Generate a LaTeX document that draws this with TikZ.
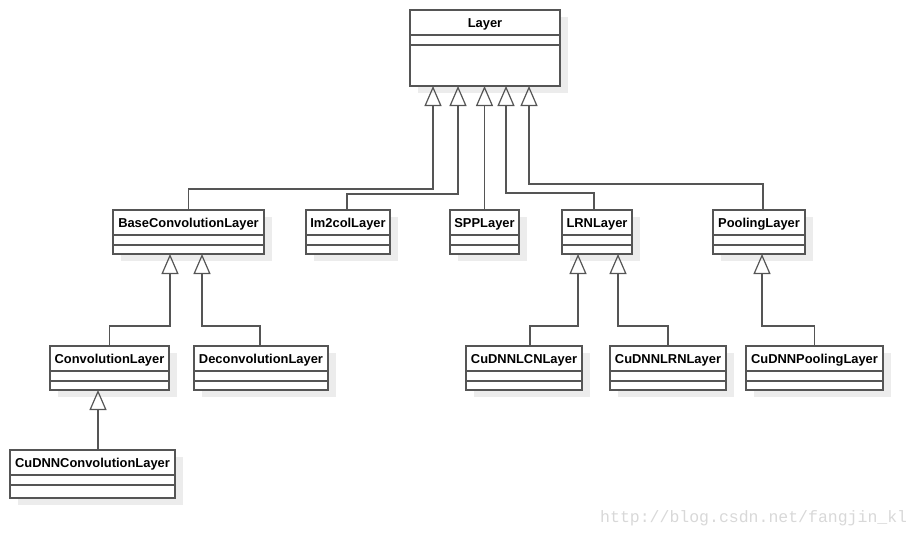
\documentclass[tikz,border=0pt]{standalone}
\usepackage{fontspec}
\setmainfont{Liberation Sans}
\newfontfamily\markfont{Liberation Mono}
\usetikzlibrary{calc, positioning}
\usetikzlibrary{arrows.meta}
\usetikzlibrary{shadows}

\definecolor{umlgray}{RGB}{85,85,85}
\definecolor{shadowgray}{RGB}{236,236,236}
\definecolor{markgray}{RGB}{216,216,216}

\begin{document}
\begin{tikzpicture}[x=1pt,y=-1pt,
    umlclass/.style={draw=umlgray, line width=1.2pt, fill=white,
        anchor=north west, outer sep=0pt, inner xsep=0pt, inner ysep=0pt,
        text height=17.5pt, text depth=#1,
        font=\fontsize{12.9}{14}\selectfont\bfseries,
        drop shadow={shadow xshift=8pt, shadow yshift=-7pt,
            fill=shadowgray, opacity=1}},
    umlclass/.default=26.5pt,
    compartment/.style={draw=umlgray, line width=1.2pt},
    extends/.style={draw=umlgray, line width=1.2pt,
        -{Triangle[open, length=20pt, width=17pt]}}]
\useasboundingbox (0,0) rectangle (922,538);

% Classes
\node[umlclass=58.5pt, minimum width=150pt] (layer) at (410,10) {Layer};

\node[umlclass, minimum width=151pt] (baseconv) at (113,210) {BaseConvolutionLayer};
\node[umlclass, minimum width=84pt] (im2col) at (306,210) {Im2colLayer};
\node[umlclass, minimum width=69pt] (spp) at (450,210) {SPPLayer};
\node[umlclass, minimum width=70pt] (lrn) at (562,210) {LRNLayer};
\node[umlclass, minimum width=92pt] (pool) at (713,210) {PoolingLayer};

\node[umlclass, minimum width=119pt] (conv) at (50,346) {ConvolutionLayer};
\node[umlclass, minimum width=134pt] (deconv) at (194,346) {DeconvolutionLayer};
\node[umlclass, minimum width=116pt] (cudnnlcn) at (466,346) {CuDNNLCNLayer};
\node[umlclass, minimum width=116pt] (cudnnlrn) at (610,346) {CuDNNLRNLayer};
\node[umlclass, minimum width=137pt] (cudnnpool) at (746,346) {CuDNNPoolingLayer};

\node[umlclass=30.5pt, minimum width=165pt] (cudnnconv) at (10,450) {CuDNNConvolutionLayer};

% Compartment lines
\foreach \cls in {layer, baseconv, im2col, spp, lrn, pool,
                  conv, deconv, cudnnlcn, cudnnlrn, cudnnpool, cudnnconv} {
    \draw[compartment] ([yshift=-25pt]\cls.north west) -- ([yshift=-25pt]\cls.north east);
    \draw[compartment] ([yshift=-35pt]\cls.north west) -- ([yshift=-35pt]\cls.north east);
}

% Inheritance from Layer
\draw[extends] (baseconv.north) -- ++(0,-21) -| ([xshift=-52pt]layer.south);
\draw[extends] ([xshift=-1pt]im2col.north) -- ++(0,-16) -| ([xshift=-27pt]layer.south);
\draw[extends] (spp.north) -- (spp.north |- layer.south);
\draw[extends] ([xshift=-3pt]lrn.north) -- ++(0,-17) -| ([xshift=21pt]layer.south);
\draw[extends] ([xshift=4pt]pool.north) -- ++(0,-26) -| ([xshift=44pt]layer.south);

% Second level
\draw[extends] (conv.north) -- ++(0,-20) -| ([xshift=-18.5pt]baseconv.south);
\draw[extends] ([xshift=-1pt]deconv.north) -- ++(0,-20) -| ([xshift=13.5pt]baseconv.south);
\draw[extends] ([xshift=6pt]cudnnlcn.north) -- ++(0,-20) -| ([xshift=-19pt]lrn.south);
\draw[extends] (cudnnlrn.north) -- ++(0,-20) -| ([xshift=21pt]lrn.south);
\draw[extends] (cudnnpool.north) -- ++(0,-20) -| ([xshift=3pt]pool.south);
\draw[extends] ([xshift=5.5pt]cudnnconv.north) -- ([xshift=-11.5pt]conv.south);

% Watermark
\node[font=\markfont\fontsize{16.5}{18}\selectfont, text=markgray,
    anchor=base west, inner sep=0pt] (watermark) at (600,522)
    {http://blog.csdn.net/fangjin\_kl};
\end{tikzpicture}
\end{document}
